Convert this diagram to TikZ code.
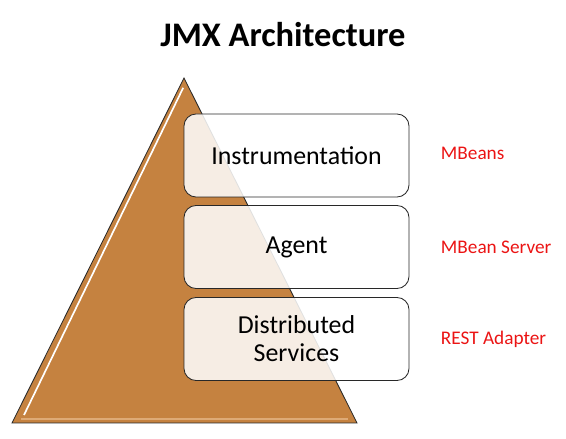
\documentclass[tikz,border=0pt]{standalone}
\usepackage{fontspec}
\setmainfont{Carlito}
\usetikzlibrary{positioning}
\definecolor{corPiramide}{RGB}{197, 130,  64}
\definecolor{corBrilho}{RGB}{222, 170, 118}
\definecolor{corBorda}{RGB}{ 40,  40,  40}
\definecolor{corRotulo}{RGB}{235,  20,  20}

\begin{document}
\begin{tikzpicture}

  \useasboundingbox (0,0) rectangle (14.15, 10.975);

  %% ================================================================
  %%  TITULO
  %% ================================================================
  \node[font=\fontsize{24.5}{28}\selectfont\bfseries] (titulo) at (7.075, 10.12) {JMX Architecture};

  %% ================================================================
  %%  PIRAMIDE
  %% ================================================================
  \fill[corPiramide] (4.6, 9.025) -- (8.925, 0.4) -- (0.3, 0.4) -- cycle;
  % brilho interno (borda chanfrada)
  \draw[white, line width=1.2pt] (4.58, 8.78) -- (0.6, 0.6);
  \draw[corBrilho, line width=1pt] (0.53, 0.5) -- (8.7, 0.5);
  \draw[corBorda, line width=0.6pt] (4.6, 9.025) -- (8.925, 0.4) -- (0.3, 0.4) -- cycle;

  %% ================================================================
  %%  CAIXAS (brancas e translucidas, na frente da piramide)
  %% ================================================================
  \tikzset{caixa/.style={draw=corBorda, line width=0.6pt, rounded corners=0.3cm,
                         fill=white, fill opacity=0.86, text opacity=1,
                         minimum width=5.625cm, minimum height=2.075cm,
                         align=center, font=\fontsize{18.4}{20}\selectfont}}
  \tikzset{rotulo/.style={anchor=west, text=corRotulo, font=\fontsize{13.7}{16}\selectfont}}

  \node[caixa] (instr)  at (7.4125, 7.0875) {Instrumentation};
  \node[caixa] (agente) at (7.4125, 4.8)    {Agent};
  \node[caixa] (distr)  at (7.4125, 2.5)    {Distributed\\Services};

  % Rotulos vermelhos da direita
  \node[rotulo] (mbeans)   at (10.9, 7.15) {MBeans};
  \node[rotulo] (servidor) at (10.9, 4.8)  {MBean Server};
  \node[rotulo] (rest)     at (10.9, 2.5)  {REST Adapter};

\end{tikzpicture}
\end{document}
